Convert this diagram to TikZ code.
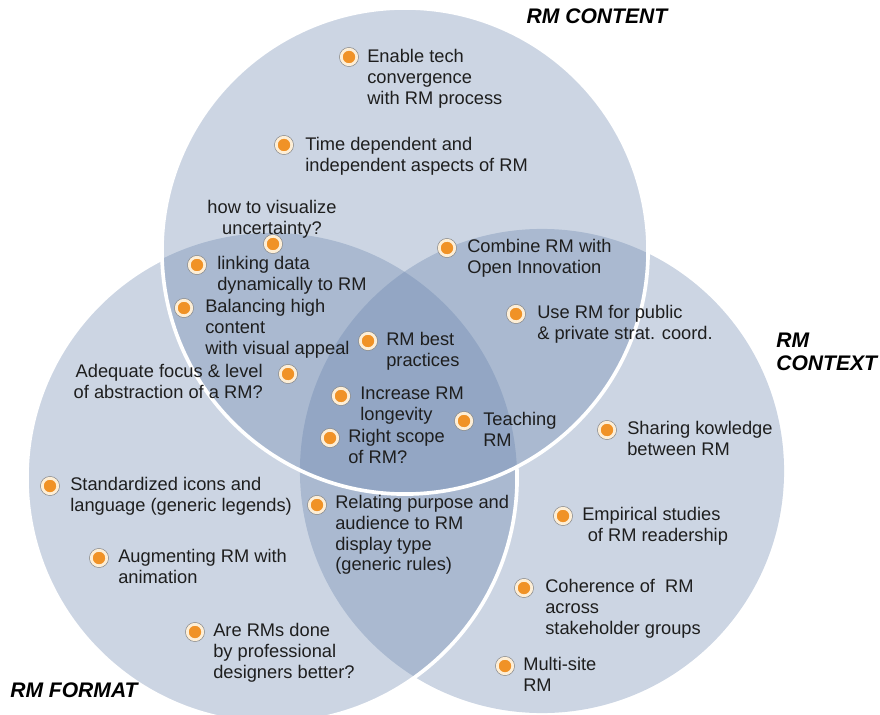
\documentclass[tikz,border=0pt]{standalone}
\usepackage{fontspec}
\setmainfont{Liberation Sans}
\usepackage{tikz}
\usetikzlibrary{positioning}
\definecolor{vennblue}{RGB}{100,128,170}
\definecolor{dotorange}{RGB}{240,146,38}
\definecolor{dotring}{RGB}{253,238,214}
\definecolor{dotrim}{RGB}{140,140,140}
\definecolor{itemtext}{RGB}{30,30,30}

\begin{document}
\begin{tikzpicture}[
    x=0.025cm, y=-0.025cm,
    venn/.style={fill=vennblue, fill opacity=0.33},
    rim/.style={draw=white, line width=2.6pt},
    dot/.style={circle, fill=dotorange, draw=dotring, line width=2pt, minimum size=11pt, inner sep=0pt, preaction={draw=dotrim, line width=3pt}},
    item/.style={anchor=north west, align=left, inner sep=0pt, yshift=1pt, text=itemtext, font=\fontsize{13}{14.9}\selectfont},
    title/.style={align=left, inner sep=0pt, font=\fontsize{15}{16.5}\selectfont\bfseries\itshape}
]
    \useasboundingbox (0,0) rectangle (880,715);

    % the three sets
    \fill[venn] (542,471) circle[radius=6.05cm];
    \fill[venn] (272,478) circle[radius=6.125cm];
    \fill[venn] (405,251) circle[radius=6.075cm];

    % white seams, left one hidden under the content set
    \begin{scope}[even odd rule]
        \clip (0,0) rectangle (880,715) (405,251) circle[radius=6.075cm];
        \draw[rim] (272,478) circle[radius=6.125cm];
    \end{scope}
    \draw[rim] (405,251) circle[radius=6.075cm];

    % set names
    \node[title] (content) at (597,16) {RM CONTENT};
    \node[title, anchor=north west] (context) at (776,333) {RM\\CONTEXT};
    \node[title, anchor=west] (format) at (10,690) {RM FORMAT};

    % content only
    \node[dot] (techd) at (349,57) {};
    \node[item] (tech) at (367,50) {Enable tech\\convergence\\with RM process};
    \node[dot] (timed) at (284,145) {};
    \node[item] (time) at (305,138) {Time dependent and\\independent aspects of RM};
    \node[item, anchor=north, align=center] (uncert) at (272,201) {how to visualize\\uncertainty?};
    \node[dot] (uncertd) at (273,244) {};

    % content and format
    \node[dot] (linkd) at (197,265) {};
    \node[item] (link) at (217,257) {linking data\\dynamically to RM};
    \node[dot] (balanced) at (184,308) {};
    \node[item] (balance) at (205,300) {Balancing high\\content\\with visual appeal};
    \node[item, anchor=north east, align=right] (focus) at (263,365) {Adequate focus \& level\\of abstraction of a RM?};
    \node[dot] (focusd) at (288,374) {};

    % content and context
    \node[dot] (opend) at (447,248) {};
    \node[item] (open) at (467,240) {Combine RM with\\Open Innovation};
    \node[dot] (stratd) at (516,314) {};
    \node[item] (strat) at (537,306) {Use RM for public\\\& private strat. coord.};

    % all three
    \node[dot] (bestd) at (368,341) {};
    \node[item] (best) at (386,333) {RM best\\practices};
    \node[dot] (longd) at (341,396) {};
    \node[item] (long) at (360,388) {Increase RM\\longevity};
    \node[dot] (scoped) at (330,438) {};
    \node[item] (scope) at (348,430) {Right scope\\of RM?};
    \node[dot] (teachd) at (464,421) {};
    \node[item] (teach) at (483,413) {Teaching\\RM};

    % format only
    \node[dot] (icond) at (50,486) {};
    \node[item] (icon) at (70,478) {Standardized icons and\\language (generic legends)};
    \node[dot] (animd) at (99,558) {};
    \node[item] (anim) at (118,550) {Augmenting RM with\\animation};
    \node[dot] (designd) at (195,632) {};
    \node[item] (design) at (213,624) {Are RMs done\\by professional\\designers better?};

    % format and context
    \node[dot] (purposed) at (317,505) {};
    \node[item] (purpose) at (335,496) {Relating purpose and\\audience to RM\\display type\\(generic rules)};

    % context only
    \node[dot] (shared) at (607,430) {};
    \node[item] (share) at (627,422) {Sharing kowledge\\between RM};
    \node[dot] (readd) at (563,516) {};
    \node[item] (read) at (582,508) {Empirical studies\\\hspace*{0.3em}of RM readership};
    \node[dot] (coherd) at (524,588) {};
    \node[item] (coher) at (545,580) {Coherence of~ RM\\across\\stakeholder groups};
    \node[dot] (sited) at (505,666) {};
    \node[item] (site) at (523,658) {Multi-site\\RM};
\end{tikzpicture}
\end{document}
